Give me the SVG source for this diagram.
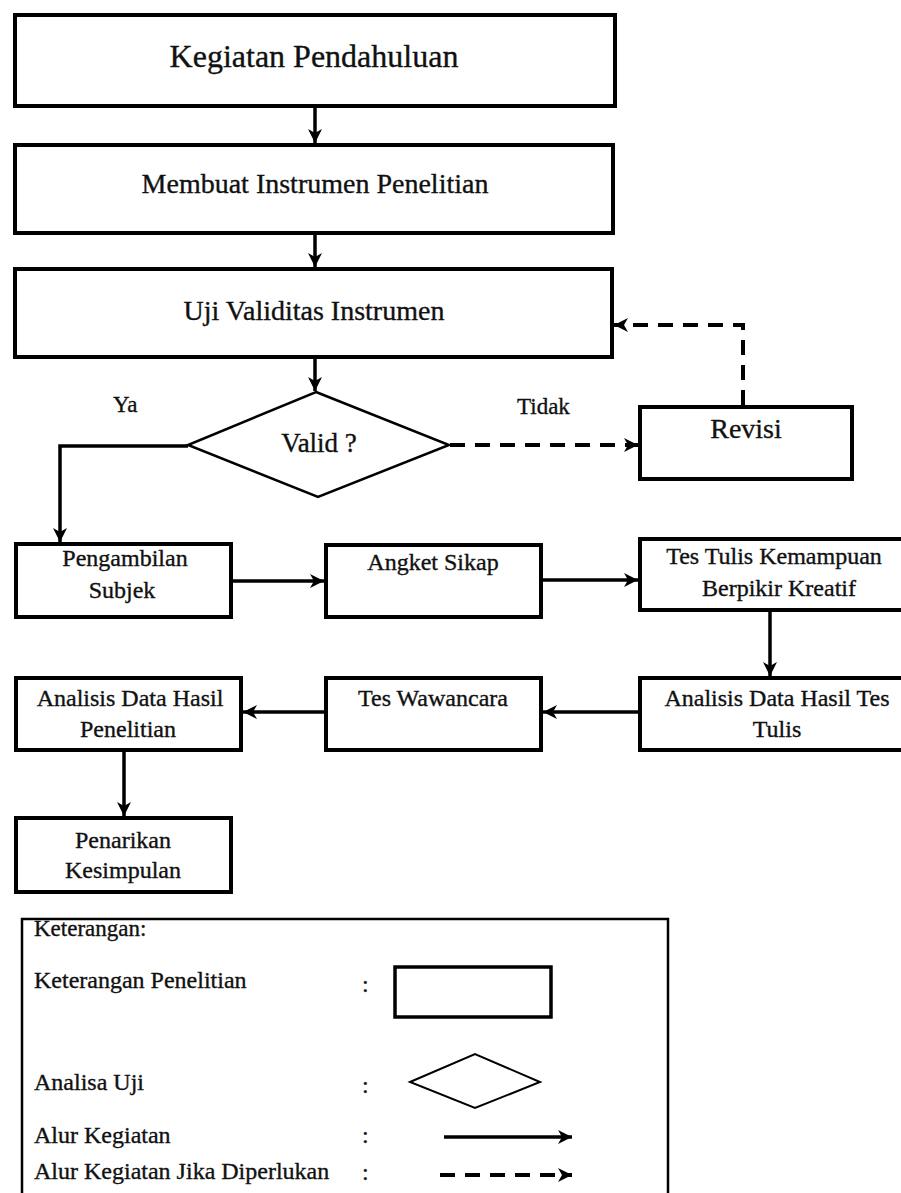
<svg xmlns="http://www.w3.org/2000/svg" width="901" height="1193" viewBox="0 0 901 1193">
<style>
  text { font-family: "Liberation Serif", "Times New Roman", serif; fill: #111; stroke: #111; stroke-width: 0.35px; }
  .box { fill: #fff; stroke: #000; stroke-width: 4; }
  .dia { fill: #fff; stroke: #000; stroke-width: 2.5; }
  .c { text-anchor: middle; }
  .flow { fill: none; stroke: #000; stroke-width: 3.5; }
  .dash { fill: none; stroke: #000; stroke-width: 4; stroke-dasharray: 15 10; }
  .t28 { font-size: 28px; }
  .t24 { font-size: 24px; }
</style>
<defs>
  <marker id="ah" markerUnits="userSpaceOnUse" markerWidth="16" markerHeight="16" refX="14" refY="8" orient="auto">
    <path d="M0,1 L14,8 L0,15 L4,8 z" fill="#000"/>
  </marker>
</defs>
<rect width="901" height="1193" fill="#fff"/>

<g id="connectors">
  <path class="flow" d="M315,107 L315,143" marker-end="url(#ah)"/>
  <path class="flow" d="M315,235 L315,267" marker-end="url(#ah)"/>
  <path class="flow" d="M315,359 L315,391" marker-end="url(#ah)"/>
  <path class="flow" d="M188,446 L60,446 L60,542" marker-end="url(#ah)"/>
  <path class="dash" d="M450,445 L638,445" marker-end="url(#ah)"/>
  <path class="dash" d="M743,405 L743,325 L614,325" marker-end="url(#ah)"/>
  <path class="flow" d="M233,581 L324,581" marker-end="url(#ah)"/>
  <path class="flow" d="M543,580 L638,580" marker-end="url(#ah)"/>
  <path class="flow" d="M770,612 L770,676" marker-end="url(#ah)"/>
  <path class="flow" d="M638,712 L543,712" marker-end="url(#ah)"/>
  <path class="flow" d="M324,712 L243,712" marker-end="url(#ah)"/>
  <path class="flow" d="M124,752 L124,816" marker-end="url(#ah)"/>
  <text x="113" y="412" style="font-size:23px">Ya</text>
  <text x="517" y="414" style="font-size:23px">Tidak</text>
</g>

<g id="n-kegiatan">
  <rect class="box" x="15" y="15" width="600" height="91"/>
  <text class="c" x="314" y="67" style="font-size:32px">Kegiatan Pendahuluan</text>
</g>
<g id="n-membuat">
  <rect class="box" x="15" y="145" width="598" height="88"/>
  <text class="c t28" x="315" y="193">Membuat Instrumen Penelitian</text>
</g>
<g id="n-uji">
  <rect class="box" x="15" y="269" width="597" height="88"/>
  <text class="c t28" x="314" y="320">Uji Validitas Instrumen</text>
</g>
<g id="n-valid">
  <polygon class="dia" points="316,392 449,445 318,497 188,445"/>
  <text class="c" x="319" y="452" style="font-size:27px">Valid ?</text>
</g>
<g id="n-revisi">
  <rect class="box" x="640" y="407" width="212" height="72"/>
  <text class="c t28" x="746" y="438">Revisi</text>
</g>
<g id="n-pengambilan">
  <rect class="box" x="16" y="544" width="215" height="73"/>
  <text class="c t24" x="125" y="566">Pengambilan</text>
  <text class="c t24" x="122" y="598">Subjek</text>
</g>
<g id="n-angket">
  <rect class="box" x="326" y="545" width="215" height="72"/>
  <text class="c t24" x="433" y="570">Angket Sikap</text>
</g>
<g id="n-testulis">
  <rect class="box" x="640" y="539" width="270" height="71"/>
  <text class="c t24" x="774" y="564">Tes Tulis Kemampuan</text>
  <text class="c t24" x="779" y="596">Berpikir Kreatif</text>
</g>
<g id="n-analisistes">
  <rect class="box" x="640" y="678" width="270" height="72"/>
  <text class="c t24" x="777" y="706">Analisis Data Hasil Tes</text>
  <text class="c t24" x="777" y="737">Tulis</text>
</g>
<g id="n-wawancara">
  <rect class="box" x="326" y="678" width="215" height="72"/>
  <text class="c t24" x="433" y="706">Tes Wawancara</text>
</g>
<g id="n-analisishasil">
  <rect class="box" x="16" y="678" width="225" height="72"/>
  <text class="c t24" x="130" y="706">Analisis Data Hasil</text>
  <text class="c t24" x="128" y="737">Penelitian</text>
</g>
<g id="n-penarikan">
  <rect class="box" x="16" y="818" width="215" height="74"/>
  <text class="c t24" x="123" y="848">Penarikan</text>
  <text class="c t24" x="123" y="878">Kesimpulan</text>
</g>

<g id="legend">
  <path d="M22,1200 L22,919 L668,919 L668,1200" fill="none" stroke="#000" stroke-width="2.5"/>
  <text x="34" y="936" style="font-size:23px">Keterangan:</text>
  <text class="t24" x="34" y="988">Keterangan Penelitian</text>
  <text class="t24" x="362" y="992">:</text>
  <rect x="395" y="967" width="156" height="50" fill="#fff" stroke="#000" stroke-width="3.5"/>
  <text class="t24" x="34" y="1090">Analisa Uji</text>
  <text class="t24" x="362" y="1093">:</text>
  <polygon points="410,1082 475,1054 540,1082 475,1108" fill="#fff" stroke="#000" stroke-width="2"/>
  <text class="t24" x="34" y="1143">Alur Kegiatan</text>
  <text class="t24" x="362" y="1143">:</text>
  <path class="flow" d="M444,1137 L572,1137" marker-end="url(#ah)"/>
  <text class="t24" x="34" y="1179">Alur Kegiatan Jika Diperlukan</text>
  <text class="t24" x="362" y="1180">:</text>
  <path class="dash" d="M440,1175 L572,1175" marker-end="url(#ah)"/>
</g>
</svg>
